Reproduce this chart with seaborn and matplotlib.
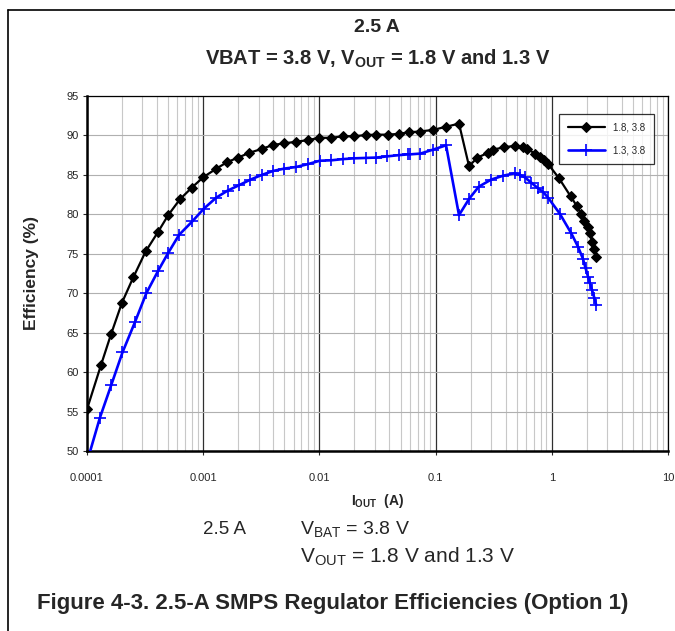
"""
SMPS regulator efficiency vs output current (2.5 A, VBAT = 3.8 V).
"""

import pandas as pd
import numpy as np
import matplotlib
matplotlib.use("Agg")
import matplotlib.pyplot as plt
import matplotlib.ticker as mticker
from matplotlib.lines import Line2D
import seaborn as sns

# --- data ---
black_x = [1e-4, 1.32e-4, 1.61e-4, 2.0e-4, 2.5e-4, 3.2e-4, 4.1e-4, 5.0e-4, 6.3e-4, 8.0e-4,
           1.0e-3, 1.3e-3, 1.6e-3, 2.0e-3, 2.5e-3, 3.2e-3, 4.0e-3, 5.0e-3, 6.3e-3, 7.9e-3,
           1.0e-2, 1.27e-2, 1.6e-2, 2.0e-2, 2.5e-2, 3.1e-2, 3.9e-2, 4.8e-2, 5.9e-2, 7.3e-2,
           9.5e-2, 0.123, 0.159, 0.194, 0.229, 0.284, 0.31, 0.39, 0.486, 0.567,
           0.617, 0.713, 0.787, 0.857, 0.927, 1.15, 1.45, 1.65, 1.79, 1.91,
           2.04, 2.13, 2.24, 2.33, 2.4]
black_y = [55.3, 60.9, 64.8, 68.8, 72.0, 75.3, 77.8, 79.9, 81.9, 83.4,
           84.7, 85.8, 86.6, 87.2, 87.8, 88.3, 88.8, 89.0, 89.2, 89.4,
           89.7, 89.7, 89.9, 89.9, 90.05, 90.1, 90.1, 90.2, 90.4, 90.5,
           90.7, 91.1, 91.5, 86.1, 87.2, 87.8, 88.2, 88.5, 88.7, 88.5,
           88.3, 87.7, 87.3, 86.9, 86.4, 84.6, 82.3, 81.0, 80.0, 79.2,
           78.4, 77.6, 76.5, 75.6, 74.6]

blue_x = [1e-4, 1.29e-4, 1.62e-4, 2.02e-4, 2.58e-4, 3.24e-4, 4.08e-4, 4.97e-4, 6.2e-4, 8.05e-4,
          1.01e-3, 1.29e-3, 1.62e-3, 2.04e-3, 2.55e-3, 3.2e-3, 4.0e-3, 5.0e-3, 6.3e-3, 7.9e-3,
          1.01e-2, 1.27e-2, 1.59e-2, 2.0e-2, 2.5e-2, 3.1e-2, 3.85e-2, 4.8e-2, 5.8e-2, 6.0e-2,
          7.4e-2, 9.5e-2, 0.123, 0.159, 0.195, 0.235, 0.30, 0.382, 0.48, 0.53,
          0.586, 0.668, 0.762, 0.84, 0.93, 1.17, 1.47, 1.68, 1.85, 1.95,
          2.05, 2.13, 2.22, 2.33, 2.41]
blue_y = [48.6, 54.2, 58.4, 62.5, 66.3, 70.0, 72.8, 75.05, 77.4, 79.1,
          80.7, 82.1, 83.0, 83.7, 84.4, 85.0, 85.5, 85.8, 86.0, 86.35,
          86.8, 86.85, 87.0, 87.1, 87.15, 87.2, 87.35, 87.5, 87.6, 87.6,
          87.7, 88.2, 88.75, 79.9, 82.0, 83.5, 84.4, 84.9, 85.2, 85.0,
          84.7, 84.0, 83.3, 82.85, 82.1, 80.1, 77.6, 75.9, 74.4, 73.2,
          72.1, 71.25, 70.4, 69.35, 68.5]

series_labels = ["1.8, 3.8", "1.3, 3.8"]
x_ticks = [0.0001, 0.001, 0.01, 0.1, 1, 10]
x_tick_labels = ["0.0001", "0.001", "0.01", "0.1", "1", "10"]
y_ticks = list(range(50, 96, 5))

sns.set_style("white")
plt.rcParams["font.family"] = ["Liberation Sans", "DejaVu Sans"]
plt.rcParams["mathtext.fontset"] = "custom"
plt.rcParams["mathtext.rm"] = "Liberation Sans"
plt.rcParams["mathtext.bf"] = "Liberation Sans:bold"

df_black = pd.DataFrame({"iout": black_x, "eff": black_y})
df_blue = pd.DataFrame({"iout": blue_x, "eff": blue_y})

fig = plt.figure(figsize=(6.75, 6.31), dpi=100)
ax = fig.add_axes([87 / 675, 1 - 451 / 631, 581 / 675, 355 / 631])

sns.lineplot(data=df_black, x="iout", y="eff", ax=ax, color="black", lw=1.6,
             marker="D", markersize=5.5, markeredgecolor="black", sort=False,
             estimator=None, label=series_labels[0], zorder=4)
sns.lineplot(data=df_blue, x="iout", y="eff", ax=ax, color="#0000FF", lw=1.9,
             marker="+", markersize=8, markeredgewidth=1.2, markeredgecolor="#0000FF",
             sort=False, estimator=None, label=series_labels[1], zorder=3)

ax.set_xscale("log")
ax.set_xlim(1e-4, 10)
ax.set_ylim(50, 95)

# grid: light minor verticals, darker decade lines, grey horizontals
ax.xaxis.set_minor_locator(mticker.LogLocator(base=10, subs=np.arange(2, 10), numticks=20))
ax.grid(which="minor", axis="x", color="#c8c8c8", lw=0.8)
ax.grid(which="major", axis="x", color="#303030", lw=0.9)
ax.grid(which="major", axis="y", color="#b0b0b0", lw=0.8)
ax.set_axisbelow(True)

ax.set_xticks(x_ticks)
ax.set_xticklabels(x_tick_labels)
ax.set_yticks(y_ticks)
ax.tick_params(axis="x", which="major", direction="out", length=3, width=0.8,
               pad=13, labelsize=8, bottom=True)
ax.tick_params(axis="x", which="minor", length=0)
ax.tick_params(axis="y", direction="out", length=3, width=0.8, pad=3,
               labelsize=8, left=True)

for side in ["left", "bottom"]:
    ax.spines[side].set_linewidth(1.8)
for side in ["top", "right"]:
    ax.spines[side].set_linewidth(0.9)
for s in ax.spines.values():
    s.set_color("black")

ax.set_xlabel(r"I$_{\mathbf{OUT}}$  (A)", fontsize=10, fontweight="bold", labelpad=6)
ax.set_ylabel("Efficiency (%)", fontsize=12.5, fontweight="bold", labelpad=20)

leg = ax.legend(loc="upper right", bbox_to_anchor=(0.9845, 0.964), fontsize=7,
                frameon=True, fancybox=False, edgecolor="black", handlelength=3.8,
                borderpad=0.9, labelspacing=1.3, handletextpad=0.9)
leg.get_frame().set_linewidth(0.9)

# titles above the plot
fig.text(377 / 675, 1 - 27 / 631, "2.5 A", ha="center", va="center",
         fontsize=14, fontweight="bold")
fig.text(378 / 675, 1 - 59 / 631, r"VBAT = 3.8 V, V$_{\mathbf{OUT}}$ = 1.8 V and 1.3 V",
         ha="center", va="center", fontsize=14.5, fontweight="bold")

# caption block
fig.text(203 / 675, 1 - 530 / 631, "2.5 A", ha="left", va="center", fontsize=13.5)
fig.text(300 / 675, 1 - 530 / 631, r"V$_{\mathrm{BAT}}$ = 3.8 V", ha="left",
         va="center", fontsize=14)
fig.text(300 / 675, 1 - 557 / 631, r"V$_{\mathrm{OUT}}$ = 1.8 V and 1.3 V", ha="left",
         va="center", fontsize=15)
fig.text(37 / 675, 1 - 603 / 631, "Figure 4-3. 2.5-A SMPS Regulator Efficiencies (Option 1)",
         ha="left", va="center", fontsize=16, fontweight="bold")

# outer frame (left and top edges)
fig.add_artist(Line2D([8 / 675, 8 / 675], [0, 1 - 10 / 631], transform=fig.transFigure,
                      color="black", lw=1.2))
fig.add_artist(Line2D([8 / 675, 1], [1 - 10 / 631, 1 - 10 / 631], transform=fig.transFigure,
                      color="black", lw=1.2))

fig.savefig("out.png", dpi=100)
plt.close(fig)
